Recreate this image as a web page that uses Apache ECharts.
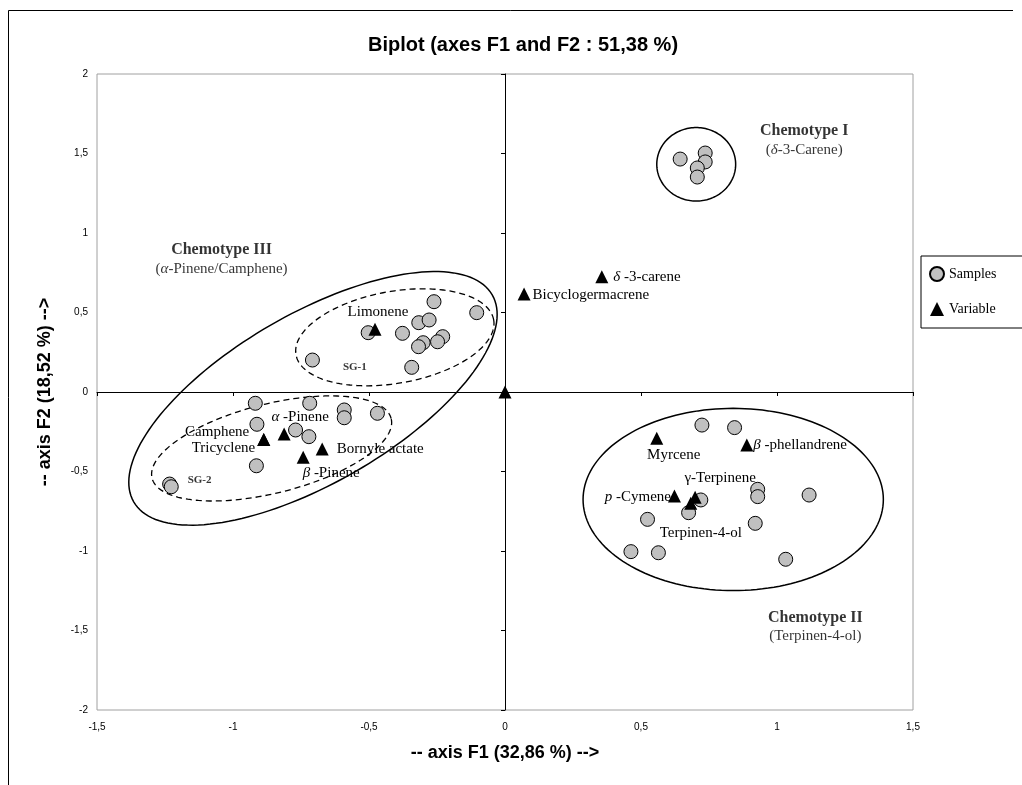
<!DOCTYPE html>
<html>
<head>
<meta charset="utf-8">
<script src="https://cdn.jsdelivr.net/npm/echarts@6/dist/echarts.min.js"></script>
<style>
  html, body { margin: 0; padding: 0; background: #fff; }
  #chart { width: 1022px; height: 785px; }
</style>
</head>
<body>
<div id="chart"></div>
<script>
// PCA biplot: sample scores and variable loadings on F1 / F2

const samplesF1 = [
  0.644, 0.736, 0.736, 0.707, 0.707,
  -0.261, -0.104, -0.503, -0.377, -0.317, -0.279, -0.229, -0.301, -0.248, -0.318, -0.708, -0.343,
  -0.918, -0.718, -0.591, -0.591, -0.469, -0.912, -0.770, -0.721, -0.914, -1.233, -1.227,
  0.724, 0.844, 0.929, 0.929, 1.118, 0.720, 0.675, 0.524, 0.920, 0.463, 0.564, 1.032
];
const samplesF2 = [
  1.465, 1.503, 1.447, 1.409, 1.352,
  0.568, 0.499, 0.373, 0.369, 0.436, 0.453, 0.348, 0.310, 0.316, 0.285, 0.201, 0.155,
  -0.071, -0.071, -0.113, -0.162, -0.134, -0.203, -0.239, -0.281, -0.464, -0.579, -0.596,
  -0.208, -0.224, -0.612, -0.658, -0.648, -0.679, -0.759, -0.801, -0.826, -1.004, -1.011, -1.052
];

const variableNames = [
  'δ-3-carene', 'Bicyclogermacrene', '', 'Limonene', 'α-Pinene', 'Camphene', 'Tricyclene',
  'Bornyle actate', 'β-Pinene', 'Myrcene', 'β-phellandrene', 'p-Cymene', 'γ-Terpinene', 'Terpinen-4-ol'
];
const variablesF1 = [0.356, 0.070, 0.000, -0.478, -0.812, -0.887, -0.887, -0.672, -0.742, 0.558, 0.889, 0.623, 0.699, 0.683];
const variablesF2 = [0.725, 0.616, 0.000, 0.394, -0.264, -0.298, -0.298, -0.358, -0.411, -0.291, -0.333, -0.654, -0.662, -0.700];

const axisTicks = { min: -1.5, max: 1.5, step: 0.5, yMin: -2, yMax: 2 };

// Group outlines: centre (F1, F2), semi-axes in F1 units, tilt in degrees, dashed flag
const groupOutlines = [
  [0.703, 1.432, 0.145, 0.135, 0, 0],
  [0.839, -0.676, 0.552, 0.335, 0, 0],
  [-0.706, -0.040, 0.761, 0.311, 30, 0],
  [-0.405, 0.344, 0.369, 0.169, 10, 1],
  [-0.858, -0.355, 0.453, 0.164, 14, 1]
];

// Group captions, anchored in data space
const groupCaptions = [
  { at: [1.100, 1.581], text: '{b|Chemotype I}\n({i|δ}-3-Carene)' },
  { at: [1.141, -1.478], text: '{b|Chemotype II}\n(Terpinen-4-ol)' },
  { at: [-1.042, 0.836], text: '{b|Chemotype III}\n({i|α}-Pinene/Camphene)' },
  { at: [-0.552, 0.159], text: '{s|SG-1}' },
  { at: [-1.123, -0.553], text: '{s|SG-2}' }
];

// How each variable name is typeset and where it sits next to its marker
const richNames = {
  'δ-3-carene': '{i|δ} -3-carene',
  'α-Pinene': '{i|α} -Pinene',
  'β-Pinene': '{i|β} -Pinene',
  'β-phellandrene': '{i|β} -phellandrene',
  'p-Cymene': '{i|p} -Cymene'
};
const labelPlacement = {
  'δ-3-carene': { position: 'right', distance: 5, shift: [0, 0] },
  'Bicyclogermacrene': { position: 'right', distance: 2, shift: [0, 1] },
  'Limonene': { position: 'top', distance: 3, shift: [3, 0] },
  'α-Pinene': { position: 'top', distance: 3, shift: [16, 0] },
  'Camphene': { position: 'left', distance: 8, shift: [0, -7] },
  'Tricyclene': { position: 'left', distance: 2, shift: [0, 9] },
  'Bornyle actate': { position: 'right', distance: 8, shift: [0, 0] },
  'β-Pinene': { position: 'bottom', distance: 2, shift: [28, 0] },
  'Myrcene': { position: 'bottom', distance: 3, shift: [17, 0] },
  'β-phellandrene': { position: 'right', distance: 0, shift: [0, 0] },
  'p-Cymene': { position: 'left', distance: -3, shift: [0, 1] },
  'γ-Terpinene': { position: 'top', distance: 5, shift: [25, 0] },
  'Terpinen-4-ol': { position: 'bottom', distance: 16, shift: [10, 0] }
};

const serif = '"Liberation Serif", "Times New Roman", serif';
const sans = '"Liberation Sans", Arial, sans-serif';

const serifRich = {
  i: { fontFamily: serif, fontStyle: 'italic', fontSize: 15, color: '#000' },
  b: { fontFamily: serif, fontWeight: 'bold', fontSize: 16, color: '#000', lineHeight: 19 },
  s: { fontFamily: serif, fontWeight: 'bold', fontSize: 11, color: '#000' }
};

const sampleData = samplesF1.map((x, k) => [x, samplesF2[k]]);
const variableData = variablesF1.map((x, k) => {
  const name = variableNames[k];
  const place = labelPlacement[name];
  return {
    name: name,
    value: [x, variablesF2[k]],
    label: place ? {
      show: true,
      position: place.position,
      distance: place.distance,
      formatter: richNames[name] || name
    } : { show: false }
  };
});
const captionData = groupCaptions.map(c => ({ value: c.at, label: { formatter: c.text } }));

function renderOutline(params, api) {
  const c = api.coord([api.value(0), api.value(1)]);
  const unit = api.size([1, 0])[0];
  const a = api.value(2) * unit;
  const b = api.value(3) * unit;
  const th = api.value(4) * Math.PI / 180;
  const dashed = api.value(5) === 1;
  const pts = [];
  for (let k = 0; k < 160; k++) {
    const t = k / 160 * 2 * Math.PI;
    const u = a * Math.cos(t), v = b * Math.sin(t);
    pts.push([
      c[0] + u * Math.cos(th) - v * Math.sin(th),
      c[1] - u * Math.sin(th) - v * Math.cos(th)
    ]);
  }
  return {
    type: 'polygon',
    shape: { points: pts },
    silent: true,
    style: {
      fill: 'none',
      stroke: '#000',
      lineWidth: dashed ? 1.3 : 1.5,
      lineDash: dashed ? [6, 4] : null
    }
  };
}

const commaFmt = v => String(v).replace('.', ',');

const chart = echarts.init(document.getElementById('chart'), null, { renderer: 'canvas' });
chart.setOption({
  animation: false,
  backgroundColor: '#fff',
  grid: {
    left: 97, top: 74, width: 816, height: 636,
    show: true, borderColor: '#a0a0a0', borderWidth: 1, backgroundColor: 'transparent'
  },
  graphic: [
    {
      type: 'polyline', silent: true,
      shape: { points: [[8.5, 785], [8.5, 10.5], [1013, 10.5]] },
      style: { fill: 'none', stroke: '#000', lineWidth: 1 }
    },
    {
      type: 'text', x: 523, y: 45, silent: true,
      style: {
        text: 'Biplot (axes F1 and F2 : 51,38 %)',
        font: 'bold 20px ' + sans, fill: '#000',
        align: 'center', verticalAlign: 'middle'
      }
    }
  ],
  legend: {
    orient: 'vertical',
    left: 921, top: 256,
    padding: [10, 30, 12, 8],
    itemGap: 20,
    itemWidth: 14, itemHeight: 14,
    borderColor: '#000', borderWidth: 1,
    backgroundColor: '#fff',
    textStyle: { fontFamily: serif, fontSize: 14, color: '#000' },
    data: ['Samples', 'Variable']
  },
  xAxis: [
    {
      type: 'value', min: axisTicks.min, max: axisTicks.max, interval: axisTicks.step,
      position: 'bottom',
      axisLine: { show: false, onZero: false },
      axisTick: { show: false },
      splitLine: { show: false },
      axisLabel: { formatter: commaFmt, margin: 12, fontFamily: sans, fontSize: 10, color: '#000' },
      name: '-- axis F1 (32,86 %) -->',
      nameLocation: 'middle', nameGap: 34,
      nameTextStyle: { fontFamily: sans, fontWeight: 'bold', fontSize: 18, color: '#000' }
    },
    {
      type: 'value', min: axisTicks.min, max: axisTicks.max, interval: axisTicks.step,
      position: 'bottom',
      axisLine: { show: true, onZero: true, onZeroAxisIndex: 0, lineStyle: { color: '#000', width: 1 } },
      axisTick: { show: true, length: 4, lineStyle: { color: '#000' } },
      axisLabel: { show: false },
      splitLine: { show: false }
    }
  ],
  yAxis: [
    {
      type: 'value', min: axisTicks.yMin, max: axisTicks.yMax, interval: axisTicks.step,
      position: 'left',
      axisLine: { show: false, onZero: false },
      axisTick: { show: false },
      splitLine: { show: false },
      axisLabel: { formatter: commaFmt, margin: 9, fontFamily: sans, fontSize: 10, color: '#000' },
      name: '-- axis F2 (18,52 %) -->',
      nameLocation: 'middle', nameGap: 43,
      nameTextStyle: { fontFamily: sans, fontWeight: 'bold', fontSize: 18, color: '#000' }
    },
    {
      type: 'value', min: axisTicks.yMin, max: axisTicks.yMax, interval: axisTicks.step,
      position: 'left',
      axisLine: { show: true, onZero: true, onZeroAxisIndex: 0, lineStyle: { color: '#000', width: 1 } },
      axisTick: { show: true, length: 4, lineStyle: { color: '#000' } },
      axisLabel: { show: false },
      splitLine: { show: false }
    }
  ],
  series: [
    {
      name: 'outlines', type: 'custom', xAxisIndex: 0, yAxisIndex: 0,
      renderItem: renderOutline, data: groupOutlines,
      encode: { x: 0, y: 1 }, z: 3, silent: true, clip: false
    },
    {
      name: 'Samples', type: 'scatter', xAxisIndex: 0, yAxisIndex: 0,
      symbol: 'circle', symbolSize: 14,
      itemStyle: { color: '#c0c0c0', borderColor: '#000', borderWidth: 1, opacity: 1 },
      data: sampleData, z: 4
    },
    {
      name: 'Variable', type: 'scatter', xAxisIndex: 0, yAxisIndex: 0,
      symbol: 'triangle', symbolSize: 13,
      itemStyle: { color: '#000', opacity: 1 },
      label: { fontFamily: serif, fontSize: 15, color: '#000', rich: serifRich },
      labelLayout: function (p) {
        const place = labelPlacement[variableNames[p.dataIndex]];
        const s = place ? place.shift : [0, 0];
        return { dx: s[0], dy: s[1], hideOverlap: false };
      },
      data: variableData, z: 5
    },
    {
      name: 'captions', type: 'scatter', xAxisIndex: 0, yAxisIndex: 0,
      symbolSize: 0, silent: true,
      label: {
        show: true, position: 'inside', align: 'center', verticalAlign: 'middle',
        fontFamily: serif, fontSize: 15, color: '#000', lineHeight: 19, rich: serifRich
      },
      data: captionData, z: 6
    }
  ]
});
</script>
</body>
</html>
